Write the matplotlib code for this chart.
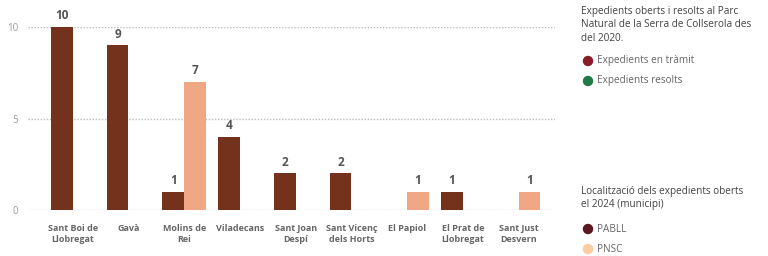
import matplotlib
matplotlib.use("Agg")
import matplotlib.pyplot as plt
import numpy as np

categories = ["Sant Boi de\nLlobregat", "Gavà", "Molins de\nRei", "Viladecans",
              "Sant Joan\nDespí", "Sant Vicenç\ndels Horts", "El Papiol",
              "El Prat de\nLlobregat", "Sant Just\nDesvern"]
pabll = [10, 9, 1, 4, 2, 2, 0, 1, 0]
pnsc = [0, 0, 7, 0, 0, 0, 1, 0, 1]
yticks = [0, 5, 10]

col_pabll = "#74321d"
col_pnsc = "#f0a784"

plt.rcParams['font.family'] = ['Open Sans', 'DejaVu Sans']

fig = plt.figure(figsize=(7.68, 2.56), dpi=100)
ax = fig.add_axes([0.0365, 0.1797, 0.686, 0.7148])

x = np.arange(len(categories))
w = 0.39
for i in range(len(categories)):
    if pabll[i] > 0:
        ax.bar(x[i] - w / 2, pabll[i], w, color=col_pabll, zorder=3)
        ax.text(x[i] - w / 2, pabll[i] + 0.25, str(pabll[i]), ha='center', va='bottom',
                fontsize=8.5, fontweight='bold', color='#555555', clip_on=False)
    if pnsc[i] > 0:
        ax.bar(x[i] + w / 2, pnsc[i], w, color=col_pnsc, zorder=3)
        ax.text(x[i] + w / 2, pnsc[i] + 0.25, str(pnsc[i]), ha='center', va='bottom',
                fontsize=8.5, fontweight='bold', color='#555555', clip_on=False)

ax.set_xlim(-0.8, 8.65)
ax.set_ylim(0, 10)
ax.set_yticks(yticks)
ax.set_yticklabels([str(v) for v in yticks], fontsize=7, color='#999999')
ax.set_xticks(x)
ax.set_xticklabels(categories, fontsize=6.5, color='#666666', fontweight='bold', linespacing=1.25)
ax.tick_params(axis='both', length=0)
ax.tick_params(axis='y', pad=7)
ax.tick_params(axis='x', pad=10)
for s in ax.spines.values():
    s.set_visible(False)
for v in yticks:
    ax.axhline(v, color='#bbbbbb', linestyle=(0, (1, 1.2)), linewidth=1.0, zorder=1)

# Legend / side panel
fs = 7.2
fig.text(581 / 768, 1 - 6 / 256, "Expedients oberts i resolts al Parc\nNatural de la Serra de Collserola des\ndel 2020.",
         fontsize=fs, color='#444444', va='top', ha='left', linespacing=1.3)
items1 = [("Expedients en tràmit", "#8c1c2a", 61), ("Expedients resolts", "#1f7a48", 81)]
items2 = [("PABLL", "#5e1620", 229), ("PNSC", "#fccba0", 249)]
for label, c, yy in items1 + items2:
    fig.patches.append(matplotlib.patches.Ellipse((588 / 768, 1 - yy / 256), 9 / 768, 9 / 256,
                                                  transform=fig.transFigure, color=c, figure=fig))
    fig.text(597 / 768, 1 - yy / 256, label, fontsize=fs, color='#666666', va='center', ha='left')
fig.text(581 / 768, 1 - 186 / 256, "Localització dels expedients oberts\nel 2024 (municipi)",
         fontsize=fs, color='#444444', va='top', ha='left', linespacing=1.3)

fig.savefig("out.png", dpi=100, facecolor='white')
